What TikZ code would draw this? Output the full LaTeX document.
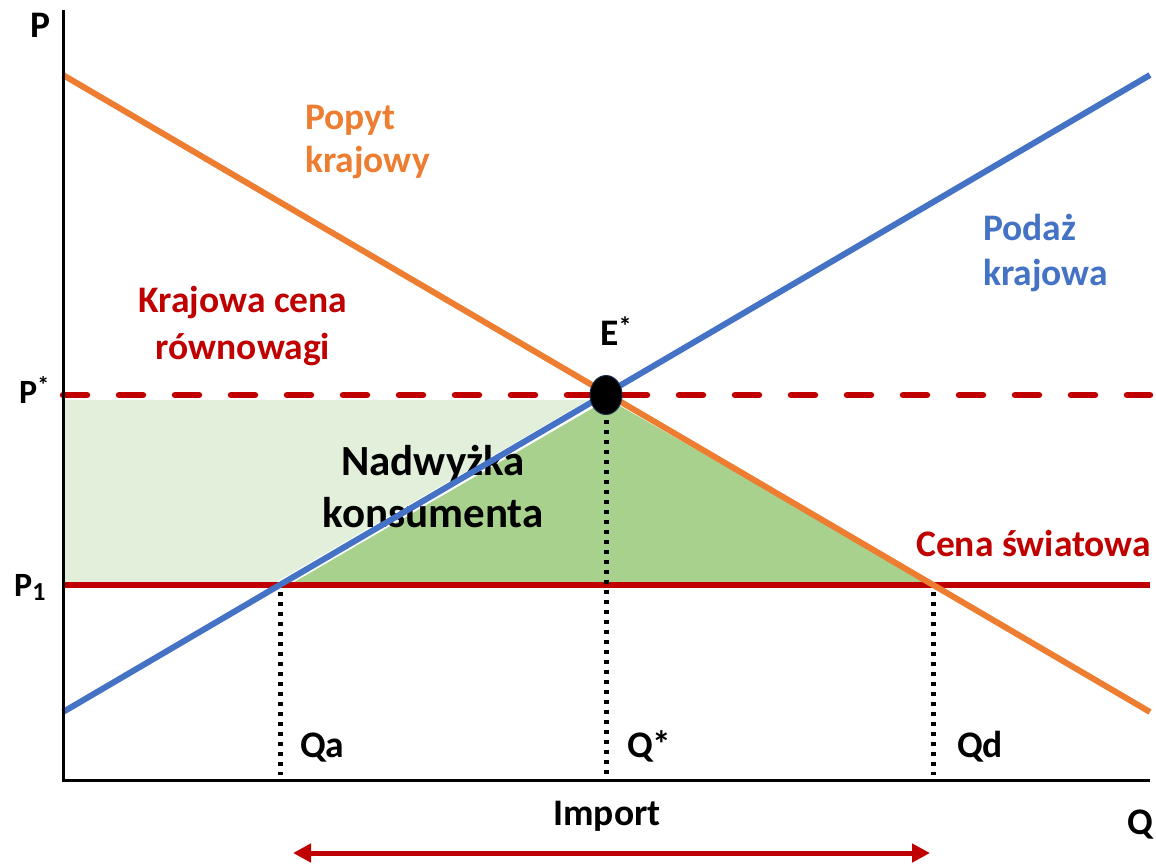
\documentclass[tikz,border=0pt]{standalone}
\usepackage{fontspec}
\setmainfont{Carlito}
\usetikzlibrary{arrows.meta,shapes.geometric}
\definecolor{dorange}{HTML}{ED7D31}
\definecolor{sblue}{HTML}{4472C4}
\definecolor{wred}{HTML}{C00000}
\definecolor{lgreen}{HTML}{E2EFDA}
\definecolor{dgreen}{HTML}{A9D18E}
\tikzset{
  lbl/.style={font=\fontsize{37.5}{44}\selectfont\bfseries, inner sep=0pt},
  curve/.style={line width=6pt},
  guide/.style={line width=5pt, dash pattern=on 4pt off 6pt},
  axis/.style={line width=3pt, black}
}
\begin{document}
\begin{tikzpicture}[x=1pt,y=-1pt]
\useasboundingbox (0,0) rectangle (1156,865);
% key points
\coordinate (O) at (63,780);
\coordinate (Ytop) at (63,10);
\coordinate (Xend) at (1150,780);
\coordinate (D0) at (63,75);
\coordinate (D1) at (1150,712);
\coordinate (S0) at (63,712);
\coordinate (S1) at (1150,75);
\coordinate (E) at (606,395);
\coordinate (PsL) at (63,395);
\coordinate (PsR) at (1150,395);
\coordinate (P1L) at (63,585);
\coordinate (P1R) at (1150,585);
\coordinate (A) at (280,585);
\coordinate (B) at (933,585);
\coordinate (Abot) at (280,775);
\coordinate (Ebot) at (606,775);
\coordinate (Bbot) at (933,775);
\coordinate (ImL) at (293,853);
\coordinate (ImR) at (930,853);
% fills
\fill[lgreen] (63,400) rectangle (606,582);
\fill[dgreen] (606,398) -- (286,582) -- (928,582) -- cycle;
\draw[white, line width=9pt] (A) -- (E);
% consumer surplus label (under the supply line)
\node[lbl, anchor=base, align=center, font=\fontsize{43}{52}\selectfont\bfseries] (lN) at (433,527) {Nadwyżka\\konsumenta};
% price lines
\draw[wred, line width=6.5pt, line cap=round, dash pattern=on 24pt off 32pt] (PsL) -- (PsR);
\draw[wred, curve] (P1L) -- (P1R);
% demand and supply
\draw[dorange, curve] (D0) -- (D1);
\draw[sblue, curve] (S0) -- (S1);
% guides
\draw[guide] (280,592) -- (Abot);
\draw[guide] (606,410) -- (Ebot);
\draw[guide] (933,592) -- (Bbot);
% equilibrium
\node[ellipse, fill=black, draw=sblue!40!black, line width=1pt, minimum width=32pt, minimum height=39pt, inner sep=0pt] (Edot) at (E) {};
% axes
\draw[axis] (Ytop) -- (O) -- (Xend);
% import arrow
\draw[wred, line width=5pt, {Triangle[length=18pt,width=18pt]}-{Triangle[length=18pt,width=18pt]}] (ImL) -- (ImR);
% labels
\node[lbl, anchor=base west] (lP) at (30,37) {P};
\node[lbl, anchor=base west, font=\fontsize{34}{40}\selectfont\bfseries] (lPs) at (19,403) {P\textsuperscript{*}};
\node[lbl, anchor=base west, font=\fontsize{34}{40}\selectfont\bfseries] (lP1) at (14,596) {P\raisebox{-0.3ex}{\fontsize{26}{26}\selectfont 1}};
\node[lbl, anchor=base] (lQ) at (1140,834) {Q};
\node[lbl, anchor=base west, align=left, text=dorange, font=\fontsize{37.5}{43}\selectfont\bfseries] (lD) at (305,172) {Popyt\\krajowy};
\node[lbl, anchor=base west, align=left, text=sblue, font=\fontsize{37.5}{45}\selectfont\bfseries] (lS) at (983,285) {Podaż\\krajowa};
\node[lbl, anchor=base, align=center, text=wred, font=\fontsize{37.5}{47}\selectfont\bfseries] (lK) at (243,359) {Krajowa cena\\równowagi};
\node[lbl, anchor=base west] (lE) at (600,345) {E\textsuperscript{*}};
\node[lbl, anchor=base west, text=wred] (lC) at (916,556) {Cena światowa};
\node[lbl, anchor=base west] (lQa) at (300,757) {Qa};
\node[lbl, anchor=base west] (lQs) at (627,757) {Q*};
\node[lbl, anchor=base west] (lQd) at (957,757) {Qd};
\node[lbl, anchor=base] (lI) at (607,825) {Import};
\end{tikzpicture}
\end{document}
